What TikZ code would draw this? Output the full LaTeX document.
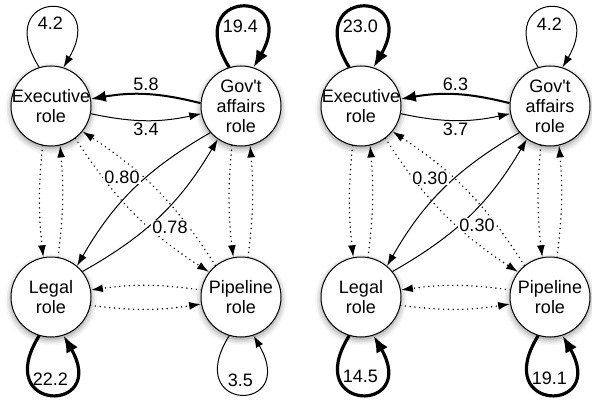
\documentclass[tikz,border=0pt]{standalone}
\usepackage{fontspec}
\setmainfont{Liberation Sans}
\usetikzlibrary{positioning,arrows.meta,shadows.blur}

\begin{document}
\begin{tikzpicture}[x=1pt,y=1pt,font=\fontsize{18}{20}\selectfont]
  \tikzstyle{role}=[circle,draw,line width=1pt,fill=white,minimum size=80pt,inner sep=0pt,
    blur shadow={shadow xshift=0pt,shadow yshift=-2.5pt,shadow blur radius=6pt,shadow opacity=45}]
  \tikzstyle{rolename}=[align=center,inner sep=0pt]
  \tikzstyle{lowflow}=[line width=1pt,-{Latex[length=12pt,width=8pt]}]
  \tikzstyle{midflow}=[line width=2pt,-{Latex[length=15pt,width=11pt]}]
  \tikzstyle{highflow}=[line width=3.2pt,-{Latex[length=17pt,width=13pt]}]
  \tikzstyle{dotflow}=[line width=1.6pt,line cap=round,dash pattern=on 0pt off 4.8pt,-{Latex[length=12pt,width=8pt]}]
  \tikzstyle{upself}=[out=122,in=60,distance=93pt]
  \tikzstyle{downself}=[out=238,in=300,distance=91pt]
  \tikzstyle{wt}=[inner sep=1pt]
  \tikzstyle{crosswt}=[fill=white,inner sep=1pt]
  \useasboundingbox (0,0) rectangle (592,400);

  \node[role,label={[rolename]center:Executive\\role}] (exL) at (51,294) {};
  \node[role,label={[rolename]center:Gov\textquotesingle t\\affairs\\role},right=109pt of exL] (govL) {};
  \node[role,label={[rolename]center:Legal\\role},below=110pt of exL] (legL) {};
  \node[role,label={[rolename]center:Pipeline\\role},below=110pt of govL] (pipL) {};

  \draw[lowflow] (exL.107) to[upself] node[wt,below=8pt] {4.2} (exL.72);
  \draw[highflow] (govL.107) to[upself] node[wt,below=10pt] {19.4} (govL.72);
  \draw[highflow] (legL.253) to[downself] node[wt,above=6.5pt] {22.2} (legL.288);
  \draw[lowflow] (pipL.253) to[downself] node[wt,above=5.5pt] {3.5} (pipL.288);
  \draw[midflow] (govL.176) to[bend right=12] node[wt,above=2pt] {5.8} (exL.10);
  \draw[lowflow] (exL.349) to[bend right=12] node[wt,below=1pt] {3.4} (govL.191);
  \draw[lowflow] (govL.221) to[bend right=15] (legL.50);
  \draw[lowflow] (legL.39) to[bend right=15] (govL.235);
  \draw[dotflow] (exL.258) to[bend right=6] (legL.101);
  \draw[dotflow] (legL.80) to[bend right=6] (exL.283);
  \draw[dotflow] (govL.257) to[bend right=6] (pipL.101);
  \draw[dotflow] (pipL.80) to[bend right=6] (govL.283);
  \draw[dotflow] (pipL.170) to[bend right=8] (legL.10);
  \draw[dotflow] (legL.348) to[bend right=8] (pipL.190);
  \draw[dotflow] (pipL.129) to[bend right=12] (exL.321);
  \draw[dotflow] (exL.307) to[bend right=12] (pipL.142);
  \node[crosswt] (xwL1) at (122,223) {0.80};
  \node[crosswt] (xwL2) at (170,173) {0.78};

  \node[role,label={[rolename]center:Executive\\role}] (exR) at (361,294) {};
  \node[role,label={[rolename]center:Gov\textquotesingle t\\affairs\\role},right=108pt of exR] (govR) {};
  \node[role,label={[rolename]center:Legal\\role},below=110pt of exR] (legR) {};
  \node[role,label={[rolename]center:Pipeline\\role},below=110pt of govR] (pipR) {};

  \draw[highflow] (exR.107) to[upself] node[wt,below=10pt] {23.0} (exR.72);
  \draw[lowflow] (govR.107) to[upself] node[wt,below=9pt] {4.2} (govR.72);
  \draw[highflow] (legR.253) to[downself] node[wt,above=9pt] {14.5} (legR.288);
  \draw[highflow] (pipR.253) to[downself] node[wt,above=6.5pt] {19.1} (pipR.288);
  \draw[midflow] (govR.176) to[bend right=12] node[wt,above=2pt] {6.3} (exR.10);
  \draw[lowflow] (exR.349) to[bend right=12] node[wt,below=1pt] {3.7} (govR.191);
  \draw[lowflow] (govR.221) to[bend right=15] (legR.50);
  \draw[lowflow] (legR.39) to[bend right=15] (govR.235);
  \draw[dotflow] (exR.258) to[bend right=6] (legR.101);
  \draw[dotflow] (legR.80) to[bend right=6] (exR.283);
  \draw[dotflow] (govR.257) to[bend right=6] (pipR.101);
  \draw[dotflow] (pipR.80) to[bend right=6] (govR.283);
  \draw[dotflow] (pipR.170) to[bend right=8] (legR.10);
  \draw[dotflow] (legR.348) to[bend right=8] (pipR.190);
  \draw[dotflow] (pipR.129) to[bend right=12] (exR.321);
  \draw[dotflow] (exR.307) to[bend right=12] (pipR.142);
  \node[crosswt] (xwR1) at (430,222) {0.30};
  \node[crosswt] (xwR2) at (477,175) {0.30};
\end{tikzpicture}
\end{document}
